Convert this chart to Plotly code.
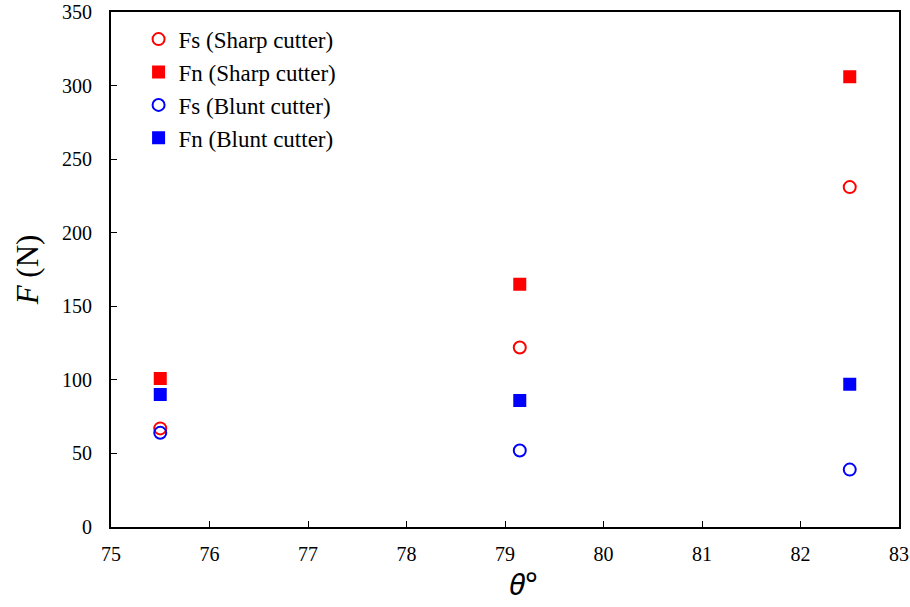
import plotly.graph_objects as go

theta = [75.5, 79.15, 82.5]
fs_sharp = [67, 122, 231]
fn_sharp = [101, 165, 306]
fs_blunt = [64, 52, 39]
fn_blunt = [90, 86, 97]

series = [
    ("Fs (Sharp cutter)", fs_sharp, "circle-open", "red"),
    ("Fn (Sharp cutter)", fn_sharp, "square", "red"),
    ("Fs (Blunt cutter)", fs_blunt, "circle-open", "blue"),
    ("Fn (Blunt cutter)", fn_blunt, "square", "blue"),
]

fig = go.Figure()
for name, vals, sym, col in series:
    fig.add_trace(go.Scatter(
        x=theta, y=vals, mode="markers", name=name,
        marker=dict(symbol=sym, color=col, size=11 if sym == "square" else 12,
                    line=dict(width=2, color=col)),
    ))
# invisible helper trace so the label-carrying overlay axis is drawn
fig.add_trace(go.Scatter(x=theta, y=fs_sharp, yaxis="y2", mode="markers",
                         marker=dict(opacity=0), showlegend=False, hoverinfo="skip"))

font = "Times New Roman, Liberation Serif, serif"
fig.update_layout(
    width=910, height=607,
    margin=dict(l=111, r=11, t=12, b=80),
    paper_bgcolor="white", plot_bgcolor="white",
    font=dict(family=font, size=18, color="black"),
    legend=dict(x=0.035, y=0.989, xanchor="left", yanchor="top",
                bgcolor="rgba(0,0,0,0)", font=dict(size=23, family=font),
                itemwidth=30, tracegroupgap=0),
    showlegend=True,
    yaxis2=dict(
        overlaying="y", side="left", range=[0, 350], dtick=50, tick0=0,
        automargin=False, showline=False, showgrid=False, zeroline=False,
        ticks="outside", ticklen=14, tickcolor="rgba(0,0,0,0)",
        tickfont=dict(size=20, family=font),
        title=dict(text="<i>F</i> (N)", font=dict(size=31, family=font), standoff=14),
    ),
)
fig.update_xaxes(
    range=[75, 83], dtick=1, tick0=75, automargin=False,
    showline=True, linecolor="black", linewidth=1.5, mirror=True,
    ticks="inside", ticklen=6, tickcolor="black",
    showgrid=False, zeroline=False, ticklabelstandoff=8,
    tickfont=dict(size=20, family=font),
)
fig.update_yaxes(
    selector=dict(overlaying=None),
    range=[0, 350], dtick=50, tick0=0, automargin=False,
    showline=True, linecolor="black", linewidth=1.5, mirror=True,
    ticks="inside", ticklen=6, tickcolor="black",
    showgrid=False, zeroline=False, showticklabels=False,
)
fig.add_annotation(
    text="<i>θ</i>°", xref="paper", yref="paper", x=0.523, y=-0.154,
    xanchor="center", yanchor="bottom", showarrow=False,
    font=dict(size=30, family="Noto Sans, DejaVu Sans, sans-serif", color="black"),
)

fig.write_html("out.html")
